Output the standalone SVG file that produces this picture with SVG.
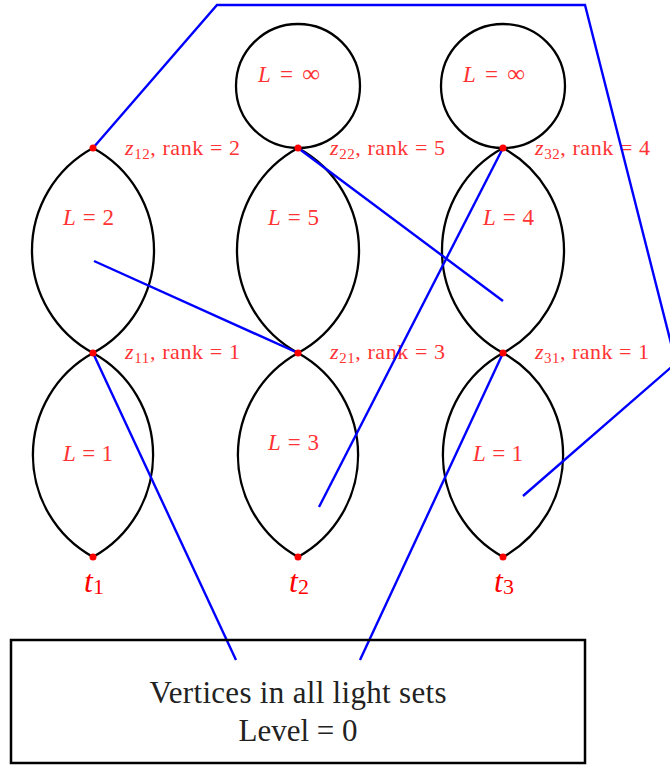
<svg xmlns="http://www.w3.org/2000/svg" width="670" height="766" viewBox="0 0 670 766">
<style>
.sh{fill:none;stroke:#000;stroke-width:2.3}
.ln{fill:none;stroke:#0000ff;stroke-width:2.4}
.dot{fill:#ff0000}
.lb{font-family:"Liberation Serif",serif;font-size:22px;fill:#ff3333}
.lv{font-family:"Liberation Serif",serif;font-size:23px;fill:#ff3333}
.it{font-style:italic}
.sub{font-size:15px}
.inf{font-size:25px}
.tl{font-family:"Liberation Serif",serif;font-size:32px;fill:#ff0000;text-anchor:middle}
.bx{font-family:"Liberation Serif",serif;font-size:31px;fill:#222;text-anchor:middle}
</style>
<rect width="670" height="766" fill="#fff"/>
<g id="column1">
<path class="sh" d="M93 148 A116.6 116.6 0 0 0 93 353 A116.6 116.6 0 0 0 93 148Z"/>
<path class="sh" d="M93 353 A116.6 116.6 0 0 0 93 557 A116.6 116.6 0 0 0 93 353Z"/>
<text class="lv" x="63" y="225" textLength="51"><tspan class="it">L</tspan> = 2</text>
<text class="lv" x="63" y="461" textLength="50"><tspan class="it">L</tspan> = 1</text>
<text class="lb" x="125" y="155" textLength="115"><tspan class="it">z</tspan><tspan class="sub" dy="4">12</tspan><tspan dy="-4">, rank = 2</tspan></text>
<text class="lb" x="125" y="359" textLength="115"><tspan class="it">z</tspan><tspan class="sub" dy="4">11</tspan><tspan dy="-4">, rank = 1</tspan></text>
<text class="tl" x="94" y="592"><tspan class="it">t</tspan><tspan font-size="22" dy="2">1</tspan></text>
</g>
<g id="column2">
<circle class="sh" cx="298" cy="86" r="62"/>
<path class="sh" d="M298 148 A116.6 116.6 0 0 0 298 353 A116.6 116.6 0 0 0 298 148Z"/>
<path class="sh" d="M298 353 A116.6 116.6 0 0 0 298 557 A116.6 116.6 0 0 0 298 353Z"/>
<text class="lv" x="258" y="82" textLength="62"><tspan class="it">L</tspan> = <tspan class="inf">∞</tspan></text>
<text class="lv" x="268" y="225" textLength="51"><tspan class="it">L</tspan> = 5</text>
<text class="lv" x="268" y="450" textLength="51"><tspan class="it">L</tspan> = 3</text>
<text class="lb" x="330" y="155" textLength="115"><tspan class="it">z</tspan><tspan class="sub" dy="4">22</tspan><tspan dy="-4">, rank = 5</tspan></text>
<text class="lb" x="330" y="359" textLength="115"><tspan class="it">z</tspan><tspan class="sub" dy="4">21</tspan><tspan dy="-4">, rank = 3</tspan></text>
<text class="tl" x="299" y="592"><tspan class="it">t</tspan><tspan font-size="22" dy="2">2</tspan></text>
</g>
<g id="column3">
<circle class="sh" cx="503" cy="86" r="62"/>
<path class="sh" d="M503 148 A116.6 116.6 0 0 0 503 353 A116.6 116.6 0 0 0 503 148Z"/>
<path class="sh" d="M503 353 A116.6 116.6 0 0 0 503 557 A116.6 116.6 0 0 0 503 353Z"/>
<text class="lv" x="463" y="82" textLength="62"><tspan class="it">L</tspan> = <tspan class="inf">∞</tspan></text>
<text class="lv" x="483" y="225" textLength="51"><tspan class="it">L</tspan> = 4</text>
<text class="lv" x="473" y="461" textLength="50"><tspan class="it">L</tspan> = 1</text>
<text class="lb" x="535" y="155" textLength="115"><tspan class="it">z</tspan><tspan class="sub" dy="4">32</tspan><tspan dy="-4">, rank = 4</tspan></text>
<text class="lb" x="535" y="359" textLength="114"><tspan class="it">z</tspan><tspan class="sub" dy="4">31</tspan><tspan dy="-4">, rank = 1</tspan></text>
<text class="tl" x="504" y="592"><tspan class="it">t</tspan><tspan font-size="22" dy="2">3</tspan></text>
</g>
<g id="connectors">
<polyline class="ln" points="93,148 217,5 585,5 676,363 523,496"/>
<line class="ln" x1="94" y1="261" x2="298" y2="353"/>
<line class="ln" x1="298" y1="148" x2="503" y2="301"/>
<line class="ln" x1="503" y1="148" x2="319" y2="507"/>
<line class="ln" x1="93" y1="353" x2="236" y2="660"/>
<line class="ln" x1="503" y1="353" x2="360" y2="660"/>
</g>
<g id="points">
<circle class="dot" cx="93" cy="148" r="3.5"/>
<circle class="dot" cx="298" cy="148" r="3.5"/>
<circle class="dot" cx="503" cy="148" r="3.5"/>
<circle class="dot" cx="93" cy="353" r="3.5"/>
<circle class="dot" cx="298" cy="353" r="3.5"/>
<circle class="dot" cx="503" cy="353" r="3.5"/>
<circle class="dot" cx="93" cy="557" r="3.5"/>
<circle class="dot" cx="298" cy="557" r="3.5"/>
<circle class="dot" cx="503" cy="557" r="3.5"/>
</g>
<g id="box">
<rect x="11" y="640" width="574" height="123" fill="none" stroke="#000" stroke-width="2.5"/>
<text class="bx" x="298" y="703" textLength="297" lengthAdjust="spacing">Vertices in all light sets</text>
<text class="bx" x="298" y="741">Level = 0</text>
</g>
</svg>
